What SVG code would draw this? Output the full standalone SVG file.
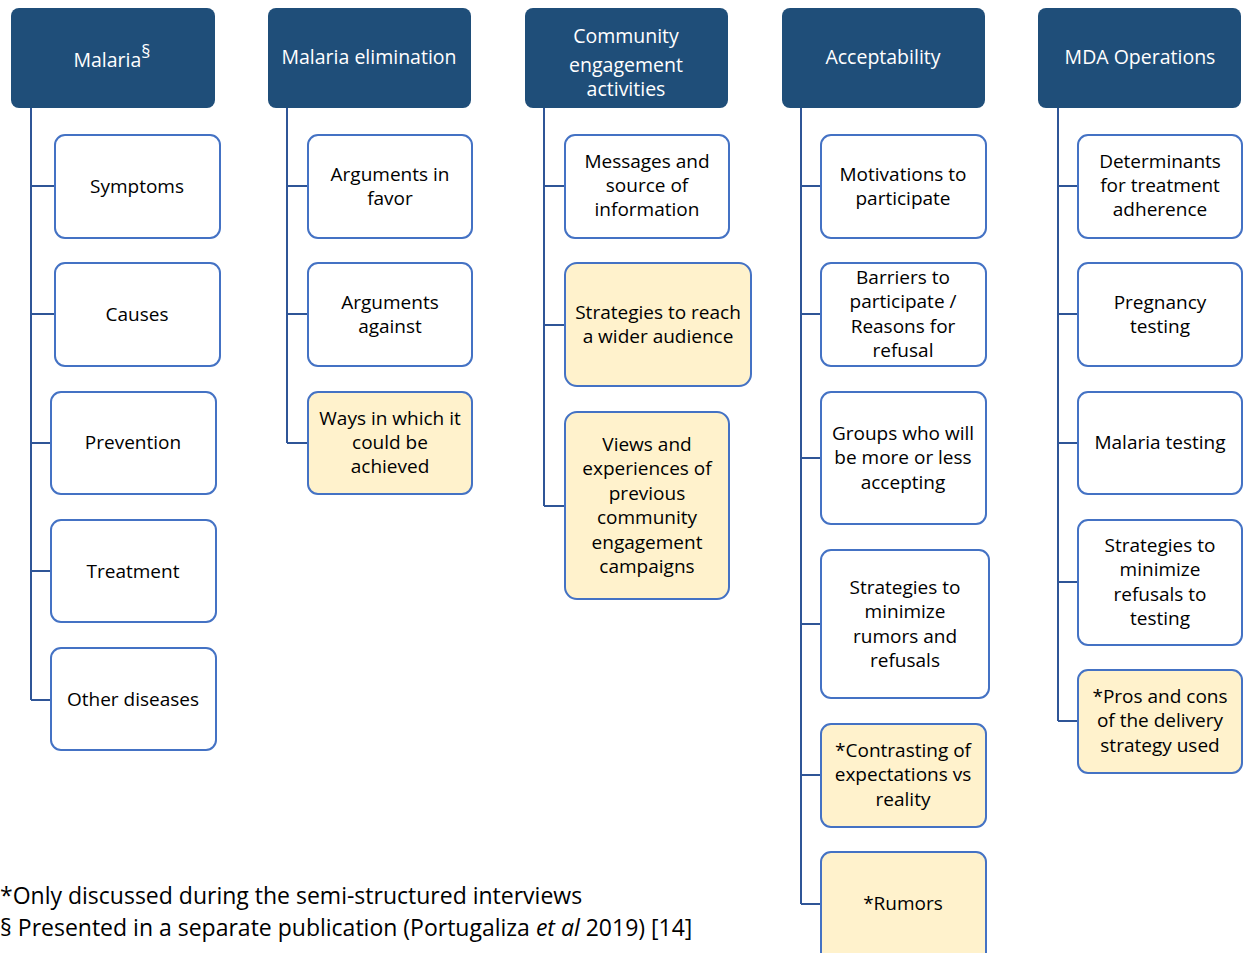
<svg xmlns="http://www.w3.org/2000/svg" width="1248" height="953" viewBox="0 0 1248 953">
<style>
.hd{fill:#1F4E79;}
.bx{fill:#FFFFFF;stroke:#4472C4;stroke-width:2;}
.yb{fill:#FFF2CC;stroke:#4472C4;stroke-width:2;}
.ht{font-family:"Open Sans",sans-serif;font-size:19.5px;fill:#FFFFFF;text-anchor:middle;}
.t{font-family:"Open Sans",sans-serif;font-size:19px;fill:#000000;text-anchor:middle;}
.fn{font-family:"Open Sans",sans-serif;font-size:23px;fill:#000000;}
.c{stroke:#2F5597;stroke-width:2;fill:none;}
</style>
<rect width="1248" height="953" fill="#FFFFFF"/>
<g id="connectors">
<path class="c" d="M31 108V700M31 186H55M31 314H55M31 443H51M31 571H51M31 700H51"/>
<path class="c" d="M287 108V443M287 186H308M287 314H308M287 443H308"/>
<path class="c" d="M544 108V506M544 186H565M544 325H565M544 506H565"/>
<path class="c" d="M801 108V904M801 186H821M801 314H821M801 458H821M801 624H821M801 775H821M801 904H821"/>
<path class="c" d="M1058 108V721M1058 186H1078M1058 314H1078M1058 443H1078M1058 582H1078M1058 721H1078"/>
</g>
<g id="h1"><rect class="hd" x="11" y="8" width="204" height="100" rx="8"/><text class="ht" x="112" y="67">Malaria<tspan dy="-9" font-size="18">§</tspan></text></g>
<g id="h2"><rect class="hd" x="268" y="8" width="203" height="100" rx="8"/><text class="ht" x="369" y="64">Malaria elimination</text></g>
<g id="h3"><rect class="hd" x="525" y="8" width="203" height="100" rx="8"/><text class="ht" x="626" y="43">Community</text><text class="ht" x="626" y="72">engagement</text><text class="ht" x="626" y="96">activities</text></g>
<g id="h4"><rect class="hd" x="782" y="8" width="203" height="100" rx="8"/><text class="ht" x="883" y="64">Acceptability</text></g>
<g id="h5"><rect class="hd" x="1038" y="8" width="203" height="100" rx="8"/><text class="ht" x="1140" y="64">MDA Operations</text></g>

<g id="n1a"><rect class="bx" x="55" y="135" width="165" height="103" rx="10"/><text class="t" x="137" y="193">Symptoms</text></g>
<g id="n1b"><rect class="bx" x="55" y="263" width="165" height="103" rx="10"/><text class="t" x="137" y="321">Causes</text></g>
<g id="n1c"><rect class="bx" x="51" y="392" width="165" height="102" rx="10"/><text class="t" x="133" y="449">Prevention</text></g>
<g id="n1d"><rect class="bx" x="51" y="520" width="165" height="102" rx="10"/><text class="t" x="133" y="578">Treatment</text></g>
<g id="n1e"><rect class="bx" x="51" y="648" width="165" height="102" rx="10"/><text class="t" x="133" y="706">Other diseases</text></g>

<g id="n2a"><rect class="bx" x="308" y="135" width="164" height="103" rx="10"/><text class="t" x="390" y="181">Arguments in</text><text class="t" x="390" y="205">favor</text></g>
<g id="n2b"><rect class="bx" x="308" y="263" width="164" height="103" rx="10"/><text class="t" x="390" y="309">Arguments</text><text class="t" x="390" y="333">against</text></g>
<g id="n2c"><rect class="yb" x="308" y="392" width="164" height="102" rx="10"/><text class="t" x="390" y="425">Ways in which it</text><text class="t" x="390" y="449">could be</text><text class="t" x="390" y="473">achieved</text></g>

<g id="n3a"><rect class="bx" x="565" y="135" width="164" height="103" rx="10"/><text class="t" x="647" y="168">Messages and</text><text class="t" x="647" y="192">source of</text><text class="t" x="647" y="216">information</text></g>
<g id="n3b"><rect class="yb" x="565" y="263" width="186" height="123" rx="12"/><text class="t" x="658" y="319">Strategies to reach</text><text class="t" x="658" y="343">a wider audience</text></g>
<g id="n3c"><rect class="yb" x="565" y="412" width="164" height="187" rx="12"/><text class="t" x="647" y="451">Views and</text><text class="t" x="647" y="475">experiences of</text><text class="t" x="647" y="500">previous</text><text class="t" x="647" y="524">community</text><text class="t" x="647" y="549">engagement</text><text class="t" x="647" y="573">campaigns</text></g>

<g id="n4a"><rect class="bx" x="821" y="135" width="165" height="103" rx="10"/><text class="t" x="903" y="181">Motivations to</text><text class="t" x="903" y="205">participate</text></g>
<g id="n4b"><rect class="bx" x="821" y="263" width="165" height="103" rx="10"/><text class="t" x="903" y="284">Barriers to</text><text class="t" x="903" y="308">participate /</text><text class="t" x="903" y="333">Reasons for</text><text class="t" x="903" y="357">refusal</text></g>
<g id="n4c"><rect class="bx" x="821" y="392" width="165" height="132" rx="10"/><text class="t" x="903" y="440">Groups who will</text><text class="t" x="903" y="464">be more or less</text><text class="t" x="903" y="489">accepting</text></g>
<g id="n4d"><rect class="bx" x="821" y="550" width="168" height="148" rx="10"/><text class="t" x="905" y="594">Strategies to</text><text class="t" x="905" y="618">minimize</text><text class="t" x="905" y="643">rumors and</text><text class="t" x="905" y="667">refusals</text></g>
<g id="n4e"><rect class="yb" x="821" y="724" width="165" height="103" rx="10"/><text class="t" x="903" y="757">*Contrasting of</text><text class="t" x="903" y="781">expectations vs</text><text class="t" x="903" y="806">reality</text></g>
<g id="n4f"><rect class="yb" x="821" y="852" width="165" height="110" rx="10"/><text class="t" x="903" y="910">*Rumors</text></g>

<g id="n5a"><rect class="bx" x="1078" y="135" width="164" height="103" rx="10"/><text class="t" x="1160" y="168">Determinants</text><text class="t" x="1160" y="192">for treatment</text><text class="t" x="1160" y="216">adherence</text></g>
<g id="n5b"><rect class="bx" x="1078" y="263" width="164" height="103" rx="10"/><text class="t" x="1160" y="309">Pregnancy</text><text class="t" x="1160" y="333">testing</text></g>
<g id="n5c"><rect class="bx" x="1078" y="392" width="164" height="102" rx="10"/><text class="t" x="1160" y="449">Malaria testing</text></g>
<g id="n5d"><rect class="bx" x="1078" y="520" width="164" height="125" rx="10"/><text class="t" x="1160" y="552">Strategies to</text><text class="t" x="1160" y="576">minimize</text><text class="t" x="1160" y="601">refusals to</text><text class="t" x="1160" y="625">testing</text></g>
<g id="n5e"><rect class="yb" x="1078" y="670" width="164" height="103" rx="10"/><text class="t" x="1160" y="703">*Pros and cons</text><text class="t" x="1160" y="727">of the delivery</text><text class="t" x="1160" y="752">strategy used</text></g>

<text class="fn" x="0" y="904">*Only discussed during the semi-structured interviews</text>
<text class="fn" x="0" y="936">§ Presented in a separate publication (Portugaliza <tspan font-style="italic">et al</tspan> 2019) [14]</text>
</svg>
